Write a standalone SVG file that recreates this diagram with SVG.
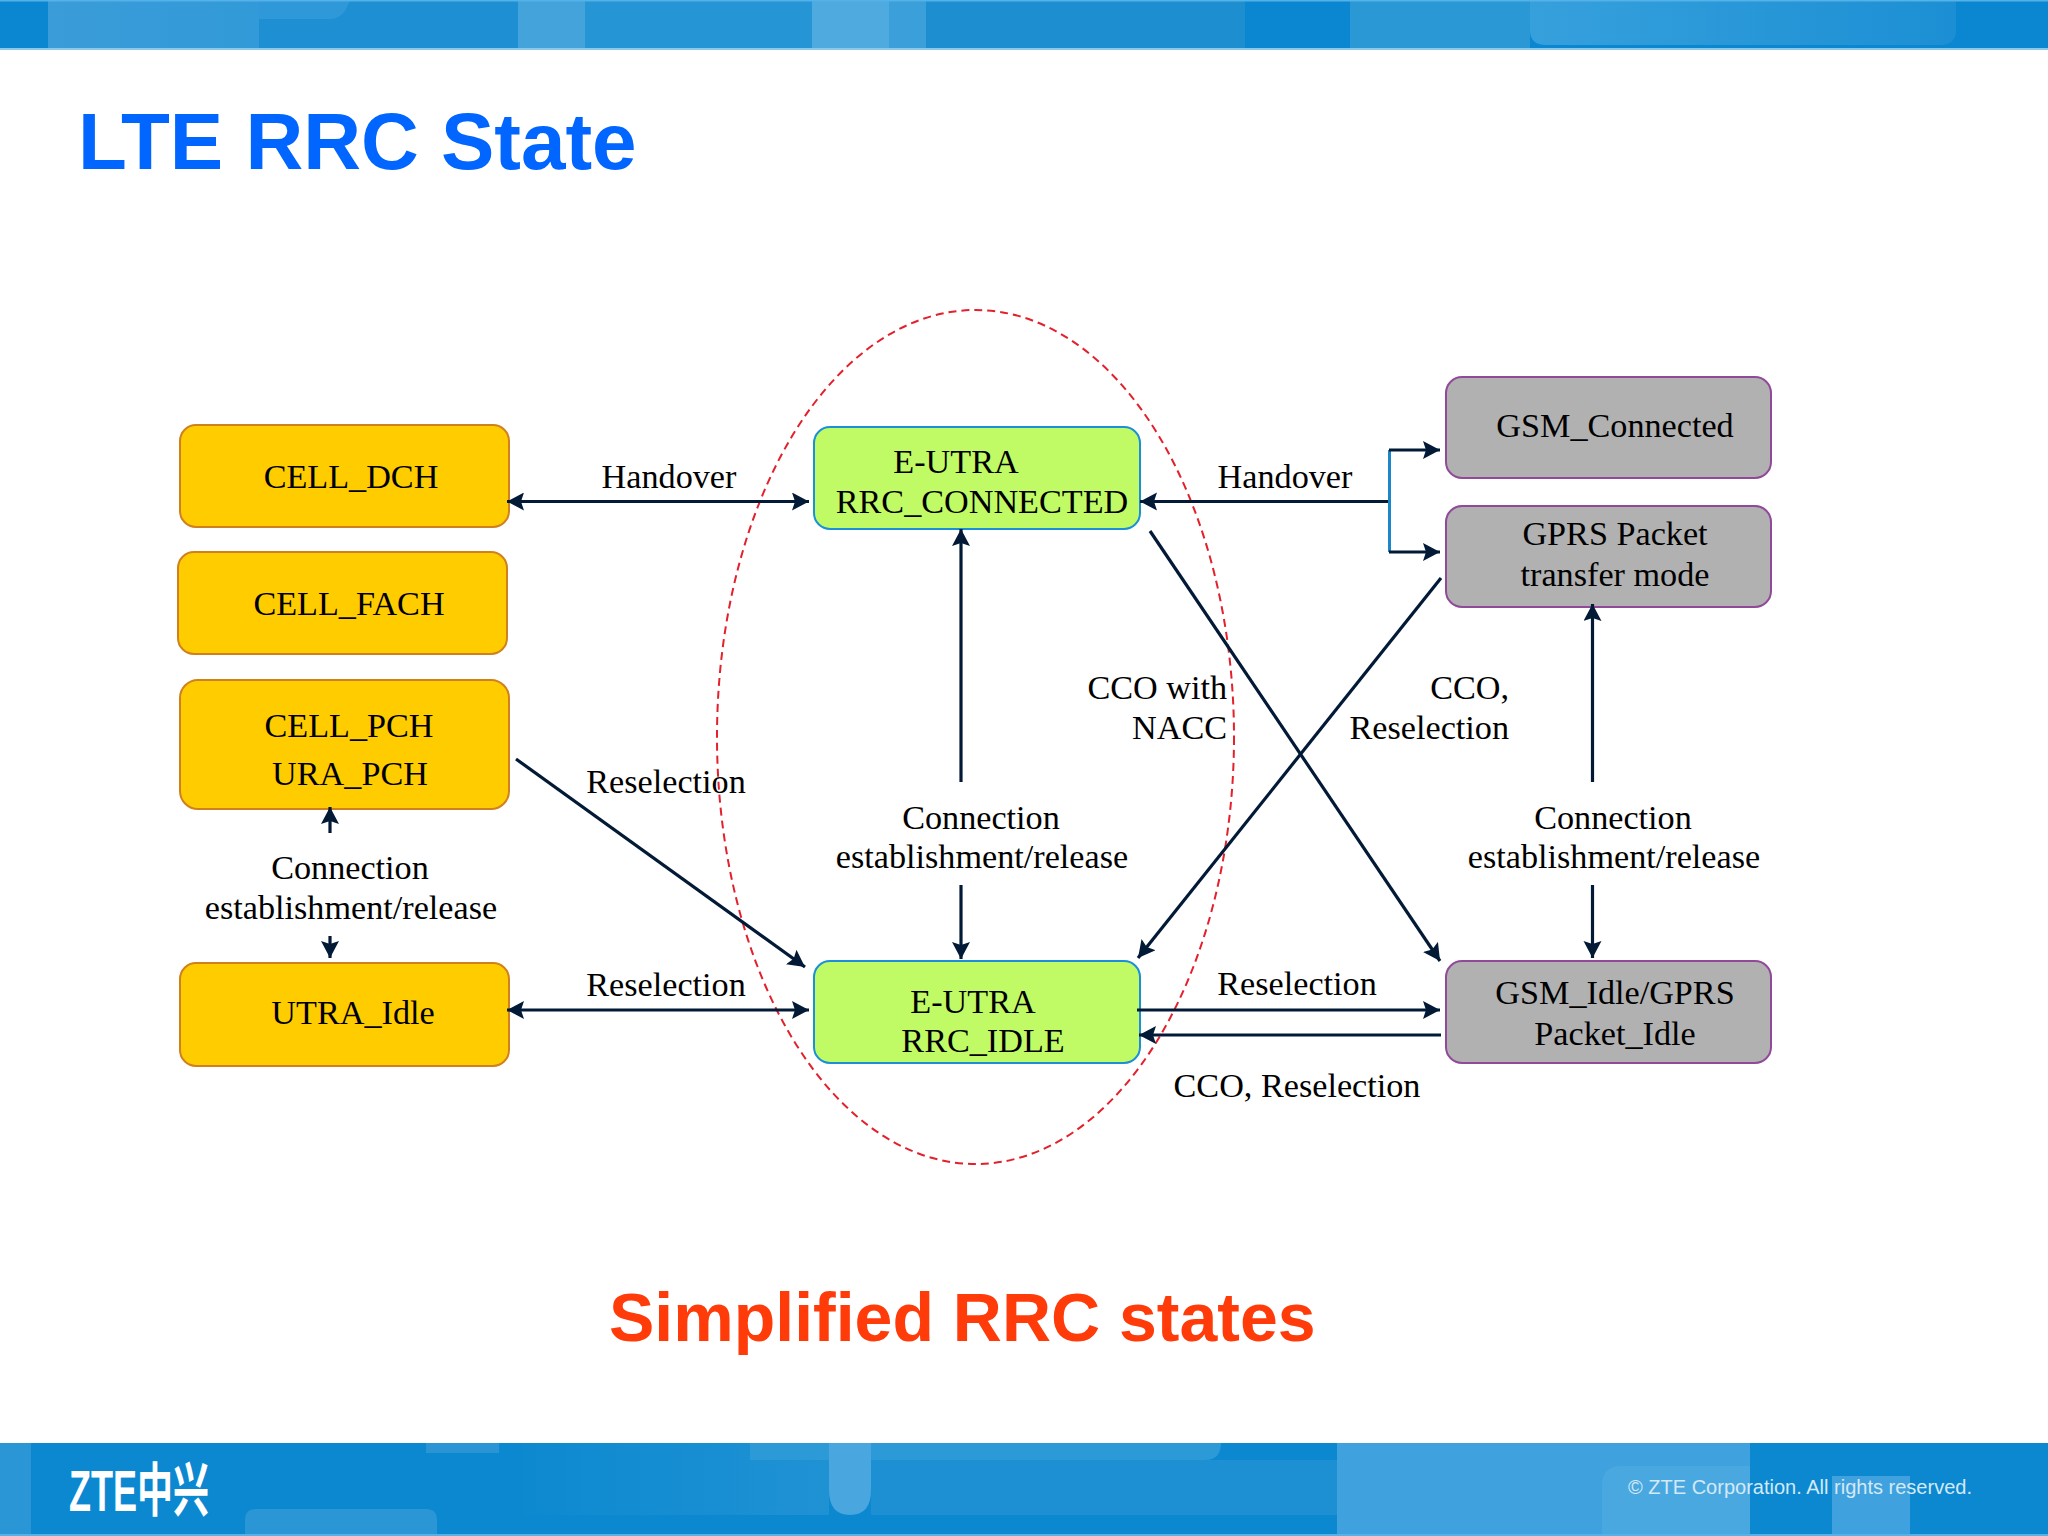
<svg xmlns="http://www.w3.org/2000/svg" width="2048" height="1536" viewBox="0 0 2048 1536">
<style>
.t{font-family:"Liberation Serif","Times New Roman",serif;font-size:34.2px;fill:#000;text-anchor:middle}
.r{text-anchor:end}
.b{stroke-width:2}
.o{fill:#ffcc00;stroke:#d0801e}
.g{fill:#c0fb66;stroke:#1b8fd8}
.y{fill:#b1b1b1;stroke:#91499a}
.c{fill:none;stroke:#021a36;stroke-width:3.2}
.a{marker-end:url(#ah)}
.s{marker-start:url(#as)}
</style>
<defs>
<linearGradient id="hg" x1="0" x2="1" y1="0" y2="0"><stop offset="0" stop-color="#36a0dc"/><stop offset="1" stop-color="#1c8fd4"/></linearGradient>
<linearGradient id="hl" x1="0" x2="1" y1="0" y2="0"><stop offset="0" stop-color="#3a9cd9"/><stop offset="1" stop-color="#329ad8"/></linearGradient>
<linearGradient id="fm" x1="0" x2="1" y1="0" y2="0"><stop offset="0" stop-color="#0d89d0"/><stop offset="1" stop-color="#1f92d4"/></linearGradient>
<marker id="ah" markerUnits="userSpaceOnUse" markerWidth="20" markerHeight="20" refX="17" refY="9" orient="auto"><path d="M0 0L17 9L0 18L3 9Z" fill="#021a36"/></marker>
<marker id="as" markerUnits="userSpaceOnUse" markerWidth="20" markerHeight="20" refX="0" refY="9" orient="auto"><path d="M17 0L0 9L17 18L14 9Z" fill="#021a36"/></marker>
</defs>
<rect width="2048" height="1536" fill="#fff"/>
<g id="header">
<rect width="2048" height="49" fill="#0a87d0"/>
<rect x="48" width="211" height="49" fill="url(#hl)"/>
<rect x="259" width="259" height="49" fill="#1f8fd3"/>
<path d="M259 0H350Q344 19 330 19H259Z" fill="#2f98d8"/>
<rect x="518" width="67" height="49" fill="#45a3dc"/>
<rect x="585" width="227" height="49" fill="#2595d6"/>
<rect x="812" width="77" height="49" fill="#4faae0"/>
<rect x="889" width="37" height="49" fill="#3b9fd9"/>
<rect x="926" width="319" height="49" fill="#1d8fd0"/>
<rect x="1350" width="180" height="49" fill="#2b98d6"/>
<path d="M1530 0H1956V30Q1956 45 1940 45H1546Q1530 45 1530 30Z" fill="url(#hg)"/>
<rect y="0" width="2048" height="1.5" fill="#55b2e8"/>
<rect y="48" width="2048" height="2" fill="#8cc8ea"/>
</g>
<text id="title" x="78" y="169" font-family="Liberation Sans,Arial,sans-serif" font-weight="700" font-size="80" fill="#0066ff">LTE RRC State</text>
<g id="footer">
<rect y="1443" width="2048" height="93" fill="#0b88d0"/>
<rect y="1443" width="31" height="93" fill="#2a96d6"/>
<rect x="426" y="1443" width="73" height="10" fill="#2a94d4"/>
<path d="M245 1535V1520Q245 1509 256 1509H426Q437 1509 437 1520V1535Z" fill="#2a96d6"/>
<rect x="522" y="1443" width="307" height="72" fill="url(#fm)"/>
<path d="M750 1443H1221Q1221 1460 1205 1460H750Z" fill="#2d9ad8"/>
<rect x="871" y="1460" width="466" height="55" fill="#1c90d2"/>
<path d="M829 1443H871V1490Q871 1515 850 1515Q829 1515 829 1490Z" fill="#4aa6de"/>
<rect x="1337" y="1443" width="413" height="72" fill="#3fa2de"/>
<rect x="1337" y="1515" width="265" height="21" fill="#3fa2de"/>
<path d="M1602 1536V1485Q1602 1466 1622 1466H1750V1536Z" fill="#4aa8e0"/>
<rect x="1832" y="1476" width="78" height="60" fill="#3fa2de"/>
<rect y="1534" width="2048" height="2" fill="#55b2e8"/>
<text x="69" y="1511" font-family="Liberation Sans,Noto Sans CJK SC,sans-serif" font-weight="700" font-size="58" fill="#fff" textLength="140" lengthAdjust="spacingAndGlyphs">ZTE中兴</text>
<text x="1628" y="1494" font-family="Liberation Sans,Arial,sans-serif" font-size="20" fill="#d4e9f7" textLength="344" lengthAdjust="spacingAndGlyphs">© ZTE Corporation. All rights reserved.</text>
</g>
<g id="boundary"><ellipse cx="975.5" cy="737" rx="258.5" ry="427" fill="none" stroke="#e3202c" stroke-width="2" stroke-dasharray="8 5"/></g>
<g id="cell-dch"><rect class="o b" x="180" y="425" width="329" height="102" rx="16"/><text class="t" x="351" y="488">CELL_DCH</text></g>
<g id="cell-fach"><rect class="o b" x="178" y="552" width="329" height="102" rx="16"/><text class="t" x="349" y="615">CELL_FACH</text></g>
<g id="cell-pch"><rect class="o b" x="180" y="680" width="329" height="129" rx="18"/><text class="t" x="349" y="737">CELL_PCH</text><text class="t" x="350" y="785">URA_PCH</text></g>
<g id="utra-idle"><rect class="o b" x="180" y="963" width="329" height="103" rx="16"/><text class="t" x="353" y="1024">UTRA_Idle</text></g>
<g id="rrc-connected"><rect class="g b" x="814" y="427" width="326" height="102" rx="16"/><text class="t" x="956" y="473">E-UTRA</text><text class="t" x="982" y="513">RRC_CONNECTED</text></g>
<g id="rrc-idle"><rect class="g b" x="814" y="961" width="326" height="102" rx="16"/><text class="t" x="973" y="1013">E-UTRA</text><text class="t" x="983" y="1052">RRC_IDLE</text></g>
<g id="gsm-connected"><rect class="y b" x="1446" y="377" width="325" height="101" rx="16"/><text class="t" x="1615" y="437">GSM_Connected</text></g>
<g id="gprs-transfer"><rect class="y b" x="1446" y="506" width="325" height="101" rx="16"/><text class="t" x="1615" y="545">GPRS Packet</text><text class="t" x="1615" y="586">transfer mode</text></g>
<g id="gsm-idle"><rect class="y b" x="1446" y="961" width="325" height="102" rx="16"/><text class="t" x="1615" y="1004">GSM_Idle/GPRS</text><text class="t" x="1615" y="1045">Packet_Idle</text></g>
<g id="connectors">
<path class="c a s" d="M507 501.5H809"/>
<path class="c a s" d="M507 1010H809"/>
<path class="c a" d="M516 759L805 967"/>
<path class="c a" d="M330 833V807"/>
<path class="c a" d="M330 936V958"/>
<path class="c a" d="M961 782V529"/>
<path class="c a" d="M961 885V959"/>
<path class="c a" d="M1390 501.5H1140"/>
<path d="M1389.500 450V552" fill="none" stroke="#1b86c8" stroke-width="3"/>
<path class="c a" d="M1389 450H1440"/>
<path class="c a" d="M1389 552H1440"/>
<path class="c a" d="M1150 531L1440 961"/>
<path class="c a" d="M1441 578L1138 958"/>
<path class="c a" d="M1592.500 782V604"/>
<path class="c a" d="M1592.500 885V958"/>
<path class="c a" d="M1137 1010H1440"/>
<path class="c a" d="M1441 1035H1139"/>
</g>
<g id="labels">
<text class="t" x="669" y="488">Handover</text>
<text class="t" x="666" y="793">Reselection</text>
<text class="t" x="666" y="996">Reselection</text>
<text class="t" x="350" y="879">Connection</text>
<text class="t" x="351" y="919">establishment/release</text>
<text class="t" x="981" y="829">Connection</text>
<text class="t" x="982" y="868">establishment/release</text>
<text class="t" x="1613" y="829">Connection</text>
<text class="t" x="1614" y="868">establishment/release</text>
<text class="t r" x="1227" y="699">CCO with</text>
<text class="t r" x="1227" y="739">NACC</text>
<text class="t r" x="1509" y="699">CCO,</text>
<text class="t r" x="1509" y="739">Reselection</text>
<text class="t" x="1285" y="488">Handover</text>
<text class="t" x="1297" y="995">Reselection</text>
<text class="t" x="1297" y="1097">CCO, Reselection</text>
</g>
<text id="caption" x="609" y="1341" font-family="Liberation Sans,Arial,sans-serif" font-weight="700" font-size="68" fill="#ff3b0a">Simplified RRC states</text>
</svg>
